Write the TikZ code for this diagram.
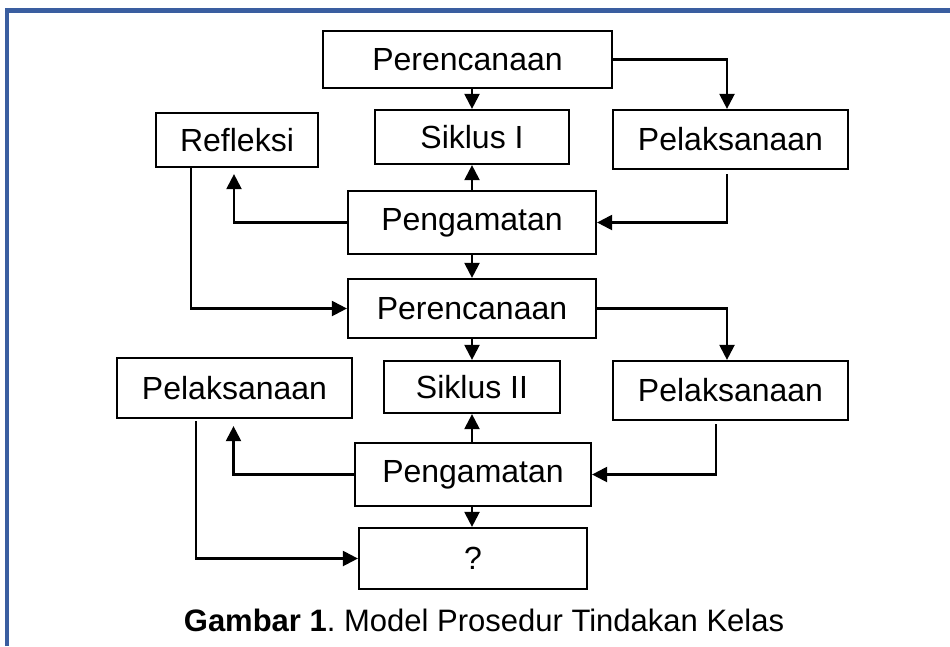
\documentclass[tikz,border=0pt]{standalone}
\usepackage{fontspec}
\setmainfont{Liberation Sans}
\usetikzlibrary{arrows.meta,calc}
\definecolor{frameblue}{RGB}{58,94,160}
\tikzset{
  box/.style={draw, line width=2.2pt, inner sep=0pt, font=\fontsize{32}{38}\selectfont},
  arr/.style={draw, line width=2.2pt, -{Triangle[length=15pt,width=15pt]}},
}
\begin{document}
\begin{tikzpicture}[x=1pt,y=-1pt]
\useasboundingbox (0,0) rectangle (950,646);
\fill[white] (0,0) rectangle (950,646);
\draw[frameblue, line width=4.5pt] (7,646) -- (7,10.5) -- (950,10.5);

\node[box, minimum width=289pt, minimum height=57pt] (per1) at (467.5,59.5) {Perencanaan};
\node[box, minimum width=194pt, minimum height=54pt] (sik1) at (472,137) {Siklus I};
\node[box, minimum width=162pt, minimum height=54pt] (ref) at (237,140) {Refleksi};
\node[box, minimum width=235pt, minimum height=59pt] (pel1) at (730.5,139.5) {Pelaksanaan};
\node[box, minimum width=248pt, minimum height=63pt] (pen1) at (472,222.5) {Pengamatan};
\node[box, minimum width=248pt, minimum height=59pt] (per2) at (472,308.5) {Perencanaan};
\node[box, minimum width=176pt, minimum height=52pt] (sik2) at (472,387) {Siklus II};
\node[box, minimum width=235pt, minimum height=60pt] (pelL) at (234.5,388) {Pelaksanaan};
\node[box, minimum width=235pt, minimum height=59pt] (pel2) at (730.5,390.5) {Pelaksanaan};
\node[box, minimum width=236pt, minimum height=63pt] (pen2) at (473,474.5) {Pengamatan};
\node[box, minimum width=228pt, minimum height=61pt] (q) at (473,558.5) {?};

\node[anchor=base, font=\fontsize{31}{37}\selectfont] (cap) at (484,631) {\textbf{Gambar 1}.\ Model Prosedur Tindakan Kelas};

% cycle I
\draw[arr] (per1.south -| sik1.north) -- (sik1.north);
\draw[arr] (per1.east) -| ([xshift=-3.5pt]pel1.north);
\draw[arr, shorten <=4pt] ([xshift=-3.5pt]pel1.south) |- (pen1.east);
\draw[arr] (pen1.north) -- (sik1.south);
\draw[arr, shorten >=6pt] (pen1.west) -| ([xshift=-3pt]ref.south);
\draw[arr] ([xshift=36pt]ref.south west) |- (per2.west);
\draw[arr] (pen1.south) -- (per2.north);
% cycle II
\draw[arr] (per2.east) -| ([xshift=-3.5pt]pel2.north);
\draw[arr] (per2.south) -- (sik2.north);
\draw[arr, shorten <=3pt] ([xshift=-14.5pt]pel2.south) |- (pen2.east);
\draw[arr] (sik2.south |- pen2.north) -- (sik2.south);
\draw[arr, shorten >=7pt] (pen2.west) -| ([xshift=-1pt]pelL.south);
\draw[arr, shorten <=2pt] ([xshift=-38.5pt]pelL.south) |- (q.west);
\draw[arr] (pen2.south -| sik2.south) -- (q.north -| sik2.south);
\end{tikzpicture}
\end{document}
